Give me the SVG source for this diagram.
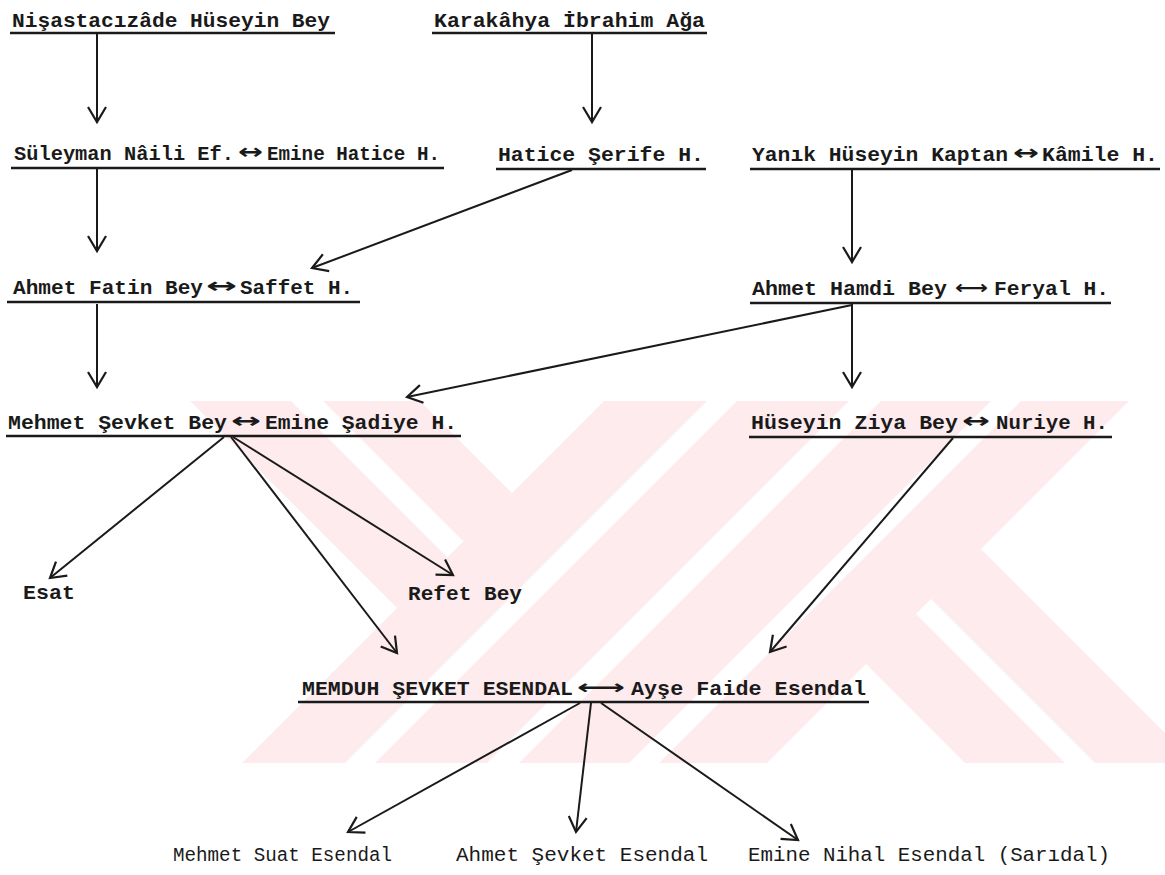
<svg xmlns="http://www.w3.org/2000/svg" width="1165" height="875" viewBox="0 0 1165 875">
<style>
.t{font-family:"Liberation Mono","DejaVu Sans Mono",monospace;font-size:21px;font-weight:bold;fill:#1a1a1a}
.c{font-family:"Liberation Mono","DejaVu Sans Mono",monospace;font-size:20.5px;fill:#1a1a1a}
.a{font-family:"DejaVu Sans",sans-serif;font-size:21px;font-weight:bold;fill:#1a1a1a}
.u{stroke:#1a1a1a;stroke-width:2.6}
.l{stroke:#1a1a1a;stroke-width:2;fill:none;marker-end:url(#ah)}
.pk{fill:#fdebee}
.wh{fill:#ffffff}
</style>
<defs>
<marker id="ah" markerUnits="userSpaceOnUse" markerWidth="30" markerHeight="30" viewBox="-20 -15 30 30" refX="0" refY="0" orient="auto" overflow="visible">
<path d="M-15,-9 L0,0 L-15,9" fill="none" stroke="#1a1a1a" stroke-width="2.2" stroke-linejoin="miter"/>
</marker>
<clipPath id="wmclip"><rect x="0" y="401" width="1165" height="362"/></clipPath>
</defs>
<rect width="1165" height="875" fill="#ffffff"/>
<g id="watermark" clip-path="url(#wmclip)">
<polygon class="pk" points="190,401 420,401 512,493 397,608"/>
<polygon class="wh" points="291,401 323,401 463.5,541.5 447.5,557.5"/>
<polygon class="pk" points="604,401 1129,401 767,763 242,763"/>
<polygon class="wh" points="707,401 737,401 375,763 345,763"/>
<polygon class="wh" points="849,401 881,401 519,763 487,763"/>
<polygon class="wh" points="991,401 1021,401 659,763 629,763"/>
<polygon class="pk" points="981,549 1195,763 965,763 866,664"/>
<polygon class="wh" points="931,599 1095,763 1065,763 916,614"/>
</g>
<g id="connectors">
<line class="l" x1="97" y1="34" x2="97" y2="122"/>
<line class="l" x1="592" y1="34" x2="592" y2="122"/>
<line class="l" x1="97" y1="169" x2="97" y2="251"/>
<line class="l" x1="572" y1="170" x2="312" y2="268"/>
<line class="l" x1="852" y1="170" x2="852" y2="262"/>
<line class="l" x1="97" y1="304" x2="97" y2="387"/>
<line class="l" x1="852" y1="304" x2="852" y2="387"/>
<line class="l" x1="852" y1="305" x2="407" y2="397"/>
<line class="l" x1="224" y1="437" x2="50" y2="578"/>
<line class="l" x1="233" y1="437" x2="453" y2="575"/>
<line class="l" x1="231" y1="437" x2="397" y2="653"/>
<line class="l" x1="953" y1="438" x2="770" y2="652"/>
<line class="l" x1="580" y1="703" x2="348" y2="832"/>
<line class="l" x1="591" y1="703" x2="576" y2="832"/>
<line class="l" x1="601" y1="703" x2="798" y2="840"/>
</g>
<g id="n1"><text class="t" x="12" y="27" textLength="318" lengthAdjust="spacingAndGlyphs">Nişastacızâde Hüseyin Bey</text><line class="u" x1="10" y1="33" x2="335" y2="33"/></g>
<g id="n2"><text class="t" x="434" y="27" textLength="271" lengthAdjust="spacingAndGlyphs">Karakâhya İbrahim Ağa</text><line class="u" x1="432" y1="33" x2="707" y2="33"/></g>
<g id="n3">
<text class="t" x="14" y="160" style="font-size:20.5px" textLength="220" lengthAdjust="spacingAndGlyphs">Süleyman Nâili Ef.</text>
<text class="a" x="238" y="159" textLength="25" lengthAdjust="spacingAndGlyphs">↔</text>
<text class="t" x="267" y="160" textLength="173" lengthAdjust="spacingAndGlyphs">Emine Hatice H.</text>
<line class="u" x1="11" y1="168" x2="444" y2="168"/></g>
<g id="n4"><text class="t" x="498" y="161" textLength="206" lengthAdjust="spacingAndGlyphs">Hatice Şerife H.</text><line class="u" x1="496" y1="169" x2="706" y2="169"/></g>
<g id="n5">
<text class="t" x="752" y="161" textLength="256" lengthAdjust="spacingAndGlyphs">Yanık Hüseyin Kaptan</text>
<text class="a" x="1013" y="160" textLength="26" lengthAdjust="spacingAndGlyphs">↔</text>
<text class="t" x="1042" y="161" textLength="116" lengthAdjust="spacingAndGlyphs">Kâmile H.</text>
<line class="u" x1="750" y1="169" x2="1160" y2="169"/></g>
<g id="n6">
<text class="t" x="13" y="294" textLength="190" lengthAdjust="spacingAndGlyphs">Ahmet Fatin Bey</text>
<text class="a" x="206" y="293" textLength="31" lengthAdjust="spacingAndGlyphs">↔</text>
<text class="t" x="240" y="294" textLength="113" lengthAdjust="spacingAndGlyphs">Saffet H.</text>
<line class="u" x1="7" y1="302" x2="360" y2="302"/></g>
<g id="n7">
<text class="t" x="752" y="295" textLength="195" lengthAdjust="spacingAndGlyphs">Ahmet Hamdi Bey</text>
<text class="a" x="955" y="294" style="font-size:19px" textLength="33" lengthAdjust="spacingAndGlyphs">⟷</text>
<text class="t" x="994" y="295" textLength="115" lengthAdjust="spacingAndGlyphs">Feryal H.</text>
<line class="u" x1="750" y1="303" x2="1111" y2="303"/></g>
<g id="n8">
<text class="t" x="8" y="429" textLength="219" lengthAdjust="spacingAndGlyphs">Mehmet Şevket Bey</text>
<text class="a" x="231" y="428" textLength="30" lengthAdjust="spacingAndGlyphs">↔</text>
<text class="t" x="265" y="429" textLength="192" lengthAdjust="spacingAndGlyphs">Emine Şadiye H.</text>
<line class="u" x1="6" y1="436" x2="461" y2="436"/></g>
<g id="n9">
<text class="t" x="751" y="429" textLength="207" lengthAdjust="spacingAndGlyphs">Hüseyin Ziya Bey</text>
<text class="a" x="962" y="428" textLength="28" lengthAdjust="spacingAndGlyphs">↔</text>
<text class="t" x="996" y="429" textLength="112" lengthAdjust="spacingAndGlyphs">Nuriye H.</text>
<line class="u" x1="749" y1="437" x2="1112" y2="437"/></g>
<g id="n10"><text class="t" x="23" y="599" textLength="52" lengthAdjust="spacingAndGlyphs">Esat</text></g>
<g id="n11"><text class="t" x="408" y="600" textLength="114" lengthAdjust="spacingAndGlyphs">Refet Bey</text></g>
<g id="n12">
<text class="t" x="302" y="695" textLength="271" lengthAdjust="spacingAndGlyphs">MEMDUH ŞEVKET ESENDAL</text>
<text class="a" x="577" y="694" style="font-size:20px" textLength="48" lengthAdjust="spacingAndGlyphs">⟷</text>
<text class="t" x="631" y="695" textLength="235" lengthAdjust="spacingAndGlyphs">Ayşe Faide Esendal</text>
<line class="u" x1="298" y1="702" x2="869" y2="702"/></g>
<g id="n13"><text class="c" x="173" y="861" textLength="219" lengthAdjust="spacingAndGlyphs">Mehmet Suat Esendal</text></g>
<g id="n14"><text class="c" x="456" y="861" textLength="252" lengthAdjust="spacingAndGlyphs">Ahmet Şevket Esendal</text></g>
<g id="n15"><text class="c" x="748" y="861" textLength="362" lengthAdjust="spacingAndGlyphs">Emine Nihal Esendal (Sarıdal)</text></g>
</svg>
